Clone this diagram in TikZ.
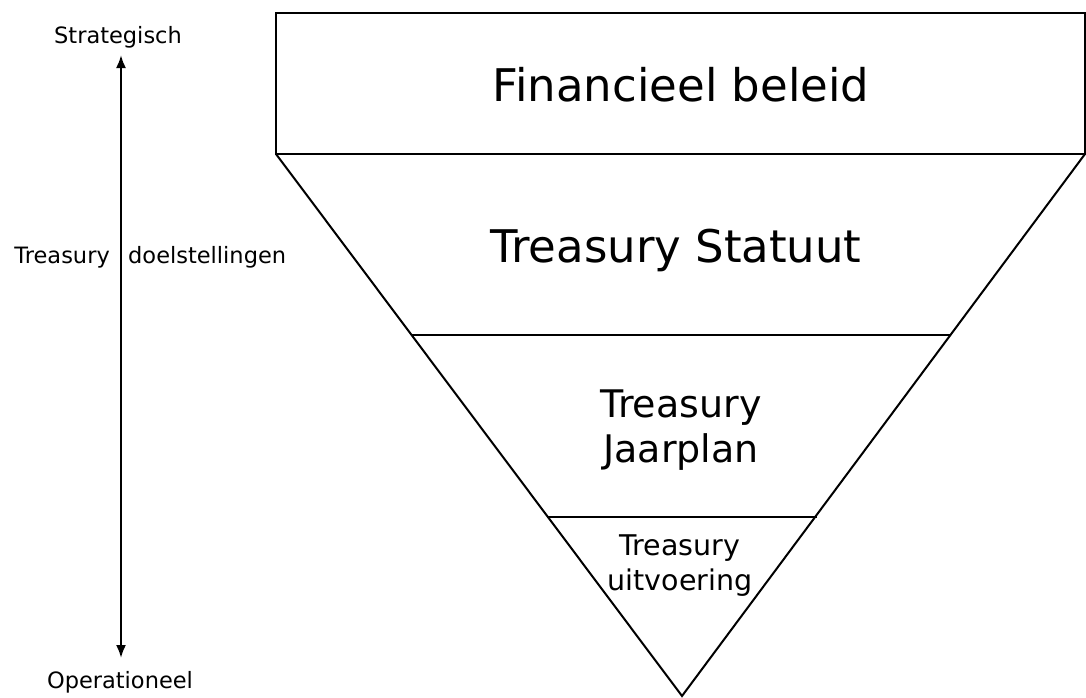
\documentclass[tikz,border=0pt]{standalone}
\usepackage{fontspec}
\setmainfont{DejaVu Sans}
\usetikzlibrary{arrows.meta}
\tikzset{
  edge/.style={line width=2pt, line join=miter},
  lbl/.style={inner sep=0pt, anchor=base},
  big/.style={lbl, font=\fontsize{45}{54}\selectfont},
  mid/.style={lbl, align=center, font=\fontsize{38}{45}\selectfont},
  small/.style={lbl, align=center, font=\fontsize{28.5}{35}\selectfont},
  side/.style={lbl, font=\fontsize{22.5}{27}\selectfont},
  axis/.style={line width=2.2pt, {Latex[length=13pt,width=10pt]}-{Latex[length=13pt,width=10pt]}}
}
\begin{document}
\begin{tikzpicture}[x=1pt,y=-1pt]
\useasboundingbox (0,0) rectangle (1086,697);
% shapes
\coordinate (rtl) at (276,13);
\coordinate (rtr) at (1085,13);
\coordinate (tl) at (276,154);
\coordinate (tr) at (1085,154);
\coordinate (apex) at (682,696);
\draw[edge] (tl) -- (rtl) -- (rtr) -- (tr) -- cycle;
\draw[edge] (tl) -- (apex) -- (tr);
\coordinate (l1) at (411,335);
\coordinate (r1) at (951,335);
\coordinate (l2) at (547,517);
\coordinate (r2) at (817,517);
\draw[edge] (l1) -- (r1);
\draw[edge] (l2) -- (r2);
% texts
\node[big] (fin) at (681,101) {Financieel beleid};
\node[big] (stat) at (676,262) {Treasury Statuut};
\node[mid] (jaar) at (681,462) {Treasury\\Jaarplan};
\node[small] (uitv) at (680,590) {Treasury\\uitvoering};
% axis
\node[side] (strat) at (118,43) {Strategisch};
\node[side] (oper) at (120,688) {Operationeel};
\node[side, anchor=base east] (tre) at (110,263) {Treasury};
\node[side, anchor=base west] (doel) at (128,263) {doelstellingen};
\coordinate (atop) at (121,55);
\coordinate (abot) at (121,658);
\draw[axis] (atop) -- (abot);
\end{tikzpicture}
\end{document}
